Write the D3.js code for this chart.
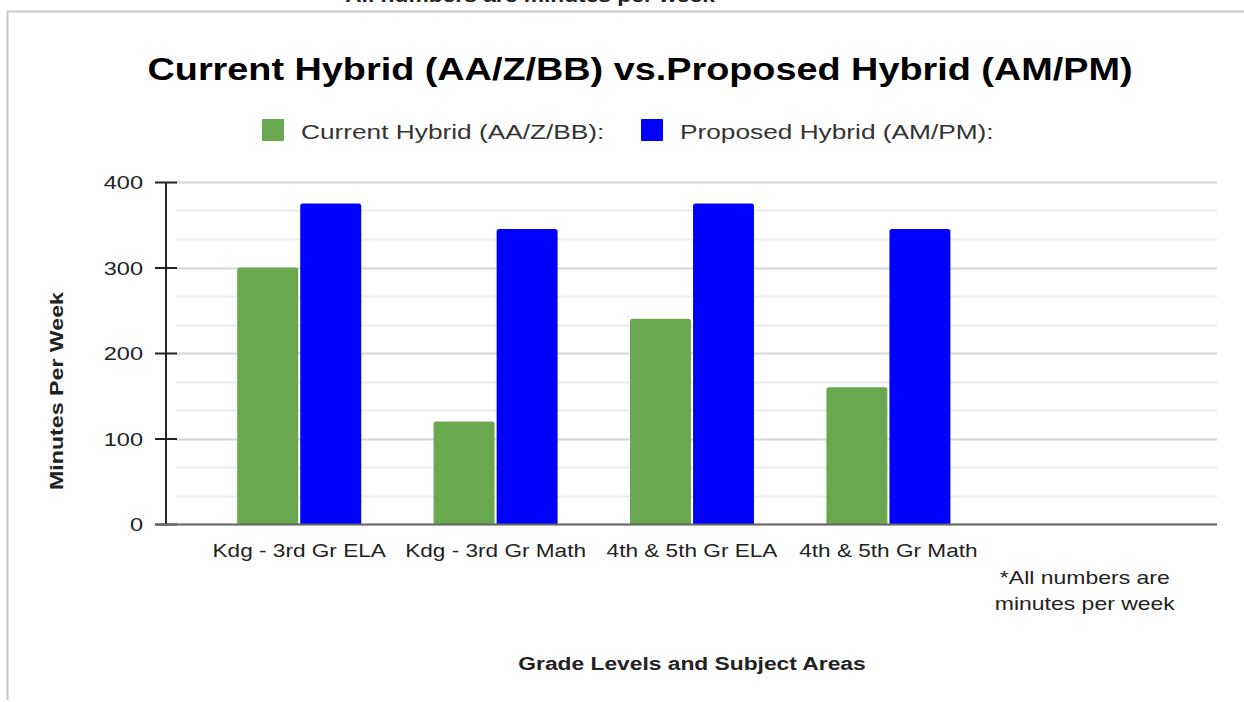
<!DOCTYPE html>
<html><head><meta charset="utf-8">
<script src="https://cdn.jsdelivr.net/npm/d3@7"></script>
<style>body{margin:0;background:#fff}svg{display:block;font-family:"Liberation Sans",Arial,sans-serif}</style>
</head><body><svg id="c" width="1244" height="702"></svg>
<script>
const categories = ["Kdg - 3rd Gr ELA","Kdg - 3rd Gr Math","4th & 5th Gr ELA","4th & 5th Gr Math","*All numbers are|minutes per week"];
const seriesNames = ["Current Hybrid (AA/Z/BB):","Proposed Hybrid (AM/PM):"];
const currentValues = [300, 120, 240, 160, null];
const proposedValues = [375, 345, 375, 345, null];
const yTicks = [0,100,200,300,400];
const colors = ["#6aa84f","#0000ff"];

const svg = d3.select("#c");
function txt(x, y, s, size, opts={}){
  const t = svg.append("text")
    .attr("transform", `translate(${x},${y})${opts.rot?` rotate(${opts.rot})`:""} scale(${opts.sx||1},1)`)
    .attr("text-anchor", opts.anchor||"middle")
    .attr("font-size", size)
    .attr("font-weight", opts.weight||"normal")
    .attr("fill", opts.fill||"#222")
    .text(s);
  return t;
}
// frame
svg.append("line").attr("x1",7).attr("x2",1244).attr("y1",11.5).attr("y2",11.5).attr("stroke","#c8c8c8").attr("stroke-width",2);
svg.append("line").attr("x1",7.5).attr("x2",7.5).attr("y1",11).attr("y2",700).attr("stroke","#c8c8c8").attr("stroke-width",2);
txt(530, 2, "All numbers are minutes per week", 19, {weight:"bold", sx:1.2, fill:"#222"});

const y = d3.scaleLinear().domain([0,400]).range([524,182]);
const x0 = d3.scaleBand().domain(categories).range([201,1183]).padding(0);
const x1 = d3.scaleBand().domain([0,1]).range([-62,62]).paddingInner(0.033);

// gridlines (major + minor)
const minor = d3.range(0,400.1,100/3);
svg.append("g").selectAll("line").data(minor).join("line")
  .attr("x1",176).attr("x2",1217).attr("y1",d=>Math.round(y(d))+0.5).attr("y2",d=>Math.round(y(d))+0.5)
  .attr("stroke",(d,i)=>i%3===0?"#d6d6d6":"#ebebeb").attr("stroke-width",2);

// bars
const data = categories.map((c,i)=>({c, v:[currentValues[i], proposedValues[i]]}));
const g = svg.append("g");
data.forEach(d=>{
  d.v.forEach((v,j)=>{
    if(v==null) return;
    const cx = x0(d.c)+x0.bandwidth()/2;
    const bx = cx + x1(j), bw = x1.bandwidth();
    const top = y(v);
    g.append("path").attr("fill",colors[j])
      .attr("d",`M${bx},${y(0)}V${top+2.5}Q${bx},${top} ${bx+2.5},${top}H${bx+bw-2.5}Q${bx+bw},${top} ${bx+bw},${top+2.5}V${y(0)}Z`);
  });
});

// y axis
const yAxis = d3.axisLeft(y).tickValues(yTicks).tickSize(22).tickFormat("");
const ya = svg.append("g").attr("transform","translate(177,0)").call(yAxis);
ya.select(".domain").remove();
ya.selectAll(".tick line").attr("stroke","#222").attr("stroke-width",2);
yTicks.forEach(t=>txt(143, y(t)+7, String(t), 19, {anchor:"end", sx:1.24}));
svg.append("line").attr("x1",166).attr("x2",166).attr("y1",182).attr("y2",525).attr("stroke","#222").attr("stroke-width",2);
// baseline
svg.append("line").attr("x1",155).attr("x2",1217).attr("y1",524.5).attr("y2",524.5).attr("stroke","#666").attr("stroke-width",2);

// x labels
categories.forEach((c,i)=>{
  const cx = x0(c)+x0.bandwidth()/2;
  const parts = c.split("|");
  if(parts.length===1){
    txt(cx, 557, c, 19, {sx:1.19});
  } else {
    parts.forEach((p,k)=>txt(cx, 584+k*26, p, 19, {sx:1.21}));
  }
});

// titles
txt(640, 80, "Current Hybrid (AA/Z/BB) vs.Proposed Hybrid (AM/PM)", 31, {weight:"bold", sx:1.22, fill:"#000"});
txt(692, 670, "Grade Levels and Subject Areas", 19, {weight:"bold", sx:1.2});
txt(63, 391, "Minutes Per Week", 19, {weight:"bold", sx:1.22, rot:-90});

// legend
const legX = [262, 641];
seriesNames.forEach((s,i)=>{
  svg.append("rect").attr("x",legX[i]).attr("y",119).attr("width",22).attr("height",22).attr("rx",1).attr("fill",colors[i]);
  txt(legX[i]+39, 139, s, 21, {anchor:"start", sx:1.25, fill:"#333"});
});
</script></body></html>
